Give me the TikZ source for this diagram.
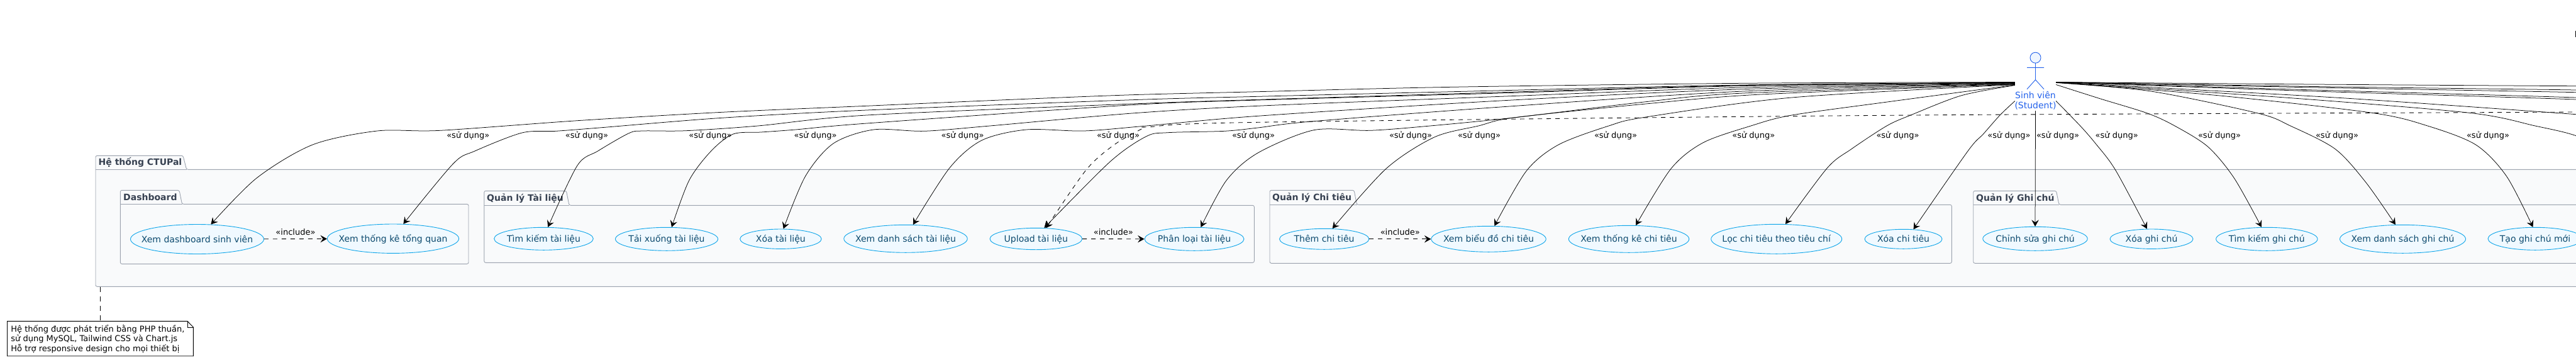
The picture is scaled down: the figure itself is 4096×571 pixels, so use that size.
\documentclass[tikz,border=0pt]{standalone}
\usepackage{fontspec}
\setmainfont{DejaVu Sans}
\usetikzlibrary{shapes.geometric,arrows.meta}
\definecolor{pkgfill}{HTML}{F9FAFB}
\definecolor{pkgline}{HTML}{9CA3AF}
\definecolor{pkgtext}{HTML}{374151}
\definecolor{ucfill}{HTML}{F0F9FF}
\definecolor{ucline}{HTML}{0EA5E9}
\definecolor{uctext}{HTML}{0C4A6E}
\definecolor{actblue}{HTML}{2563EB}
\definecolor{actfill}{HTML}{EFF6FF}
\tikzset{
  usecase/.style={ellipse,draw=ucline,fill=ucfill,line width=.9pt,inner sep=0pt,text=uctext,
    font=\fontsize{14}{14}\selectfont,text height=10pt,text depth=0pt},
  pkgbox/.style={draw=pkgline,fill=pkgfill,line width=.9pt,rounded corners=2.5pt},
  pkgsep/.style={draw=pkgline,line width=.9pt},
  pkgtitle/.style={anchor=west,inner sep=0pt,text=pkgtext,font=\fontsize{14}{14}\selectfont\bfseries,text height=10pt,text depth=0pt},
  uselabel/.style={inner sep=0pt,font=\fontsize{13}{13}\selectfont,text height=9.5pt,text depth=0pt},
  assoc/.style={draw=black,line width=.75pt,-{Stealth[length=10.5pt,width=11.5pt,inset=4pt]}},
  plain/.style={draw=black,line width=.75pt},
  incl/.style={draw=black,line width=.85pt,dash pattern=on 7pt off 7pt,-{Stealth[length=10.5pt,width=11.5pt,inset=4pt]}},
  stick/.style={draw=actblue,line width=.9pt},
  notebox/.style={draw=black,fill=white,line width=.9pt},
  notetext/.style={anchor=west,inner sep=0pt,font=\fontsize{13}{13}\selectfont,text height=9.5pt,text depth=0pt}
}
\newcommand{\ucase}[6]{\node[usecase,minimum width=2*#4pt,minimum height=2*#5pt] (#1) at (#2,#3) {\makebox[0pt][c]{#6}};}
\newcommand{\uselbl}[2]{\node[uselabel] (#1) at (#2,214.7) {«sử dụng»};}
\begin{document}
\begin{tikzpicture}[x=1pt,y=-1pt]
\useasboundingbox (0,0) rectangle (4096,571);
\fill[white] (0,0) rectangle (4096,571);
\clip (0,0) rectangle (4096,571);
% packages
\draw[pkgbox] (152,269.3) -- (152,247.3) -- (291,247.3) -- (296.6,269.3) -- (4300,269.3) -- (4300,455.3) -- (152,455.3) -- cycle;
\draw[pkgsep] (152,269.3) -- (296.6,269.3);
\node[pkgtitle] (pkgSys) at (156.5,257.5) {Hệ thống CTUPal};
\draw[pkgbox] (191.3,324.3) -- (191.3,302.3) -- (285,302.3) -- (289.5,324.3) -- (745,324.3) -- (745,419.3) -- (191.3,419.3) -- cycle;
\draw[pkgsep] (191.3,324.3) -- (289.5,324.3);
\node[pkgtitle] (pkgDash) at (196,313) {Dashboard};
\draw[pkgbox] (769.8,326.3) -- (769.8,303.3) -- (900.5,303.3) -- (905,326.3) -- (1994.3,326.3) -- (1994.3,417.3) -- (769.8,417.3) -- cycle;
\draw[pkgsep] (769.8,326.3) -- (905,326.3);
\node[pkgtitle] (pkgDoc) at (774,314.5) {Quản lý Tài liệu};
\draw[pkgbox] (2019,325.3) -- (2019,302.3) -- (2153,302.3) -- (2157.5,325.3) -- (3103.3,325.3) -- (3103.3,418.3) -- (2019,418.3) -- cycle;
\draw[pkgsep] (2019,325.3) -- (2157.5,325.3);
\node[pkgtitle] (pkgExp) at (2023,313.8) {Quản lý Chi tiêu};
\draw[pkgbox] (3137.7,325.3) -- (3137.7,303.3) -- (3269.5,303.3) -- (3274,325.3) -- (4250,325.3) -- (4250,418.3) -- (3137.7,418.3) -- cycle;
\draw[pkgsep] (3137.7,325.3) -- (3274,325.3);
\node[pkgtitle] (pkgNote) at (3142,314) {Quản lý Ghi chú};
% use cases
\ucase{n1}{313.5}{380}{106}{23.5}{Xem dashboard sinh viên}
\ucase{n2}{625}{379.2}{104.6}{23.2}{Xem thống kê tổng quan}
\ucase{n3}{864.5}{379.3}{78.8}{18}{Tìm kiếm tài liệu}
\ucase{n4}{1060}{379.8}{81.5}{18.5}{Tải xuống tài liệu}
\ucase{n5}{1241.4}{379.7}{64.7}{15.7}{Xóa tài liệu}
\ucase{n6}{1440}{379.3}{98.2}{22}{Xem danh sách tài liệu}
\ucase{n7}{1647.3}{379.5}{73.3}{17.2}{Upload tài liệu}
\ucase{n8}{1899}{379.8}{79}{18.5}{Phân loại tài liệu}
\ucase{n9}{2105.6}{379.8}{71.1}{16.5}{Thêm chi tiêu}
\ucase{n10}{2367}{379.8}{91.2}{20.5}{Xem biểu đồ chi tiêu}
\ucase{n11}{2590}{379.8}{95.7}{21.5}{Xem thống kê chi tiêu}
\ucase{n12}{2824.7}{379.8}{104}{23.5}{Lọc chi tiêu theo tiêu chí}
\ucase{n13}{3026.5}{379.8}{61.5}{15.5}{Xóa chi tiêu}
\ucase{n14}{3236}{379.3}{83.2}{19}{Chỉnh sửa ghi chú}
\ucase{n15}{3421}{379.7}{66}{15.7}{Xóa ghi chú}
\ucase{n16}{3604.3}{379.8}{80.7}{18.5}{Tìm kiếm ghi chú}
\ucase{n17}{3820.5}{379.8}{100}{22.5}{Xem danh sách ghi chú}
\ucase{n18}{4031}{379.3}{75}{18}{Tạo ghi chú mới}
% actor
\node[minimum width=65pt,minimum height=93pt,inner sep=0pt] (actor) at (3236.5,129.5) {};
\draw[stick,fill=actfill] (3236.5,91.7) circle[radius=8.5pt];
\draw[stick] (3236.5,100.2) -- (3236.5,126.7) (3223,107.3) -- (3250,107.3) (3223,141.7) -- (3236.5,126.7) -- (3250,141.7);
\node[inner sep=0pt,align=center,text=actblue,font=\fontsize{14}{16.6}\selectfont] (actorlabel) at (3236.5,160) {Sinh viên\\(Student)};
% free ends beyond the right edge
\coordinate (off0) at (4300,176.5);
\coordinate (off1) at (4200,136.7);
\coordinate (off2) at (4200,146);
\coordinate (off3) at (4200,150);
\coordinate (off4) at (4200,161);
\coordinate (off5) at (4200,164);
\coordinate (off6) at (4200,190);
\coordinate (off7) at (4160,245);
% dashed link
\draw[incl] plot[smooth,tension=0.5] coordinates {(off0) (4096,178) (3000,183.3) (2000,194.3) (1826.7,201.7) (1815,205) (1771.7,230) (1727,270) (n7.47)};
% left fan
\draw[assoc] plot[smooth,tension=0.5] coordinates {([yshift=-1pt]actor.west) (2772,132.3) (2309,138.3) (2000,145.7) (1800,150.7) (1607,158.3) (1378,168.3) (1148,178.3) (918,191.7) (700,207.3) (600,208) (497,230) (408,283) (n1.47.2)};
\draw[assoc] plot[smooth,tension=0.5] coordinates {([yshift=-1.5pt]actor.west) (2772,135) (2309,145.7) (2000,153.3) (1800,158.7) (1378,175) (1148,187.3) (953,203) (884,208.3) (830,211) (755,240) (720.7,260) (n2.55.1)};
\draw[assoc] plot[smooth,tension=0.5] coordinates {([yshift=-2pt]actor.west) (2772,135.7) (2386,146.7) (2000,158.3) (1800,165) (1378,183) (1205,200) (1090.7,207.7) (1022,208) (1000,211.7) (950.6,240) (918,263) (n3.70)};
\draw[assoc] plot[smooth,tension=0.5] coordinates {([yshift=-2pt]actor.west) (2772,136.5) (2386,148) (2000,159) (1800,166.7) (1378,196) (1265,206) (1210,210) (1165.8,213) (1130.7,240) (1095.7,286.7) (n4.67.6)};
\draw[assoc] plot[smooth,tension=0.5] coordinates {([yshift=-2.5pt]actor.west) (2772,139) (2386,153.3) (2000,168.3) (1800,180) (1574,200) (1469.6,208.3) (1389,206) (1325,228) (1280.6,280) (n5.75.4)};
\draw[assoc] plot[smooth,tension=0.5] coordinates {([yshift=-3pt]actor.west) (2772,141.7) (2386,160) (2000,184.3) (1822.7,200) (1723.5,208) (1632,206) (1561,223) (1510,266.7) (n6.62.2)};
\draw[assoc] plot[smooth,tension=0.5] coordinates {([yshift=-3.5pt]actor.west) (2772,145) (2386,170) (2085,193) (2000,203) (1947,208.3) (1857,210.7) (1822.7,216.7) (1765,257) (n7.53.1)};
\draw[assoc] plot[smooth,tension=0.5] coordinates {([yshift=-4pt]actor.west) (2772,148) (2617,161.7) (2409,186.7) (2274,200) (2178.6,207.3) (2089,206.7) (2000,243) (1950,286.7) (n8.61.9)};
\draw[assoc] plot[smooth,tension=0.5] coordinates {([yshift=-4.5pt]actor.west) (2800,150) (2617,165) (2409,186.7) (2350.8,200) (2280.6,218) (2204,268) (n9.52.7)};
\draw[assoc] plot[smooth,tension=0.5] coordinates {([yshift=-5pt]actor.west) (2849,155) (2617,186) (2558,200) (2478,230) (2427,271.7) (n10.66.2)};
\draw[assoc] plot[smooth,tension=0.5] coordinates {([yshift=-5.5pt]actor.west) (3003,161.7) (2849,183) (2784,200) (2708,226.7) (2657,268) (n11.63.2)};
\draw[assoc] plot[smooth,tension=0.5] coordinates {([yshift=-6pt]actor.west) (3119,151.7) (3038,183) (3000,200) (2944,236.7) (2905.6,266.7) (n12.59)};
\draw[assoc] plot[smooth,tension=0.5] coordinates {([yshift=-31pt]actor.west) (3180,183) (3153.5,213) (3129,240) (n13.44)};
\draw[assoc] (actor.south) -- (n14.north);
% right fan
\draw[assoc] plot[smooth,tension=0.5] coordinates {([yshift=-31pt]actor.east) (3307.7,200) (3332,228) (3363.6,270) (n15.114.2)};
\draw[assoc] plot[smooth,tension=0.5] coordinates {([yshift=-5pt]actor.east) (3340,157) (3414.6,180) (3458,200) (3510.5,233) (3552.4,283) (n16.114.3)};
\draw[assoc] plot[smooth,tension=0.5] coordinates {([yshift=-2pt]actor.east) (3420,145) (3590.5,180) (3641.9,200) (3713,236.7) (3762,290) (n17.117.2)};
\draw[assoc] plot[smooth,tension=0.5] coordinates {([yshift=-1.5pt]actor.east) (3526.5,151.7) (3771.7,179.3) (3860,200) (3936.6,230) (3985.5,280) (n18.101)};
\draw[plain] plot[smooth,tension=0.5] coordinates {([yshift=-1.5pt]actor.east) (3633,155) (3926.3,179.3) (4031,200) (4096,215.7) (off7)};
\draw[plain] plot[smooth,tension=0.5] coordinates {([yshift=-1pt]actor.east) (3473,141.7) (3740,156.7) (4096,181.7) (off6)};
\draw[plain] plot[smooth,tension=0.5] coordinates {([yshift=-1pt]actor.east) (3680,145) (4096,158) (off5)};
\draw[plain] plot[smooth,tension=0.5] coordinates {([yshift=-1pt]actor.east) (3680,143) (4096,155) (off4)};
\draw[plain] plot[smooth,tension=0.5] coordinates {([yshift=-1pt]actor.east) (3680,139) (4096,146.7) (off3)};
\draw[plain] plot[smooth,tension=0.5] coordinates {([yshift=-1pt]actor.east) (3680,137.5) (4096,143) (off2)};
\draw[plain] plot[smooth,tension=0.5] coordinates {([yshift=-1pt]actor.east) (3680,134) (4096,136.7) (off1)};
% includes
\draw[incl] (n1) -- (n2) node[midway,yshift=11pt,uselabel] (i1) {«include»};
\draw[incl] (n7) -- (n8) node[midway,yshift=11pt,uselabel] (i2) {«include»};
\draw[incl] (n9) -- (n10) node[midway,yshift=11pt,uselabel] (i3) {«include»};
% labels
\uselbl{u1}{744.3}\uselbl{u2}{933}\uselbl{u3}{1129.5}\uselbl{u4}{1296.6}\uselbl{u5}{1530.6}\uselbl{u6}{1778}
\uselbl{u7}{1993}\uselbl{u8}{2243}\uselbl{u9}{2352}\uselbl{u10}{2569}\uselbl{u11}{2788.3}\uselbl{u12}{3017.5}
\uselbl{u13}{3194.4}\uselbl{u14}{3272}\uselbl{u15}{3365.7}\uselbl{u16}{3529}\uselbl{u17}{3716}\uselbl{u18}{3956}
% note
\draw[notebox] (11.5,510.3) -- (298,510.3) -- (307.4,520) -- (307.4,565.7) -- (11.5,565.7) -- cycle;
\draw[draw=black,line width=.9pt] (298,510.3) -- (298,520) -- (307.4,520);
\node[notetext] (nt1) at (17.2,523) {Hệ thống được phát triển bằng PHP thuần,};
\node[notetext] (nt2) at (17.2,538) {sử dụng MySQL, Tailwind CSS và Chart.js};
\node[notetext] (nt3) at (17.2,553.5) {Hỗ trợ responsive design cho mọi thiết bị};
\coordinate (noteTop) at (159.4,510.3);
\coordinate (pkgBottom) at (159.4,455.8);
\draw[draw=black,line width=.75pt,dash pattern=on 8pt off 7pt] (pkgBottom) -- (noteTop);
% cut element at the right edge
\draw[draw=black,line width=1.2pt] (4095.6,49) -- (4095.6,59);
\end{tikzpicture}
\end{document}
